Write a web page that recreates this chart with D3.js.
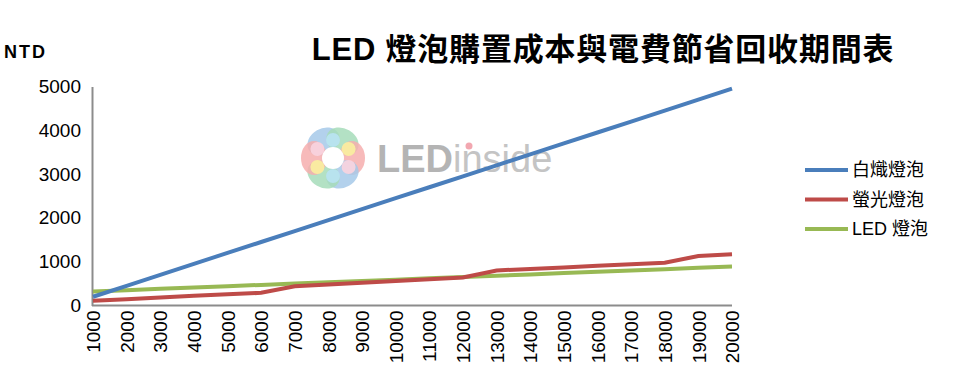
<!DOCTYPE html>
<html>
<head>
<meta charset="utf-8">
<script src="https://cdn.jsdelivr.net/npm/d3@7"></script>
<style>
  body { margin: 0; background: #fff; }
  svg text { font-family: "Liberation Sans", Arial, "Noto Sans CJK TC", sans-serif; }
</style>
</head>
<body>
<div id="chart"></div>
<script>
// hours of use (x categories)
var hours = ["1000","2000","3000","4000","5000","6000","7000","8000","9000","10000",
             "11000","12000","13000","14000","15000","16000","17000","18000","19000","20000"];
// cumulative cost, NTD
var incandescent = [200,450,700,950,1200,1450,1700,1950,2200,2450,
                    2700,2950,3200,3450,3700,3950,4200,4450,4700,4950];
var fluorescent = [110,145,180,220,255,290,440,480,520,560,
                   600,640,800,835,870,905,940,975,1130,1170];
var ledBulb = [320,350,380,410,440,470,500,530,560,590,
               620,650,680,710,740,770,800,830,860,890];
var yTicks = [0,1000,2000,3000,4000,5000];

var seriesNames = ["白熾燈泡", "螢光燈泡", "LED 燈泡"];
var seriesColors = ["#4a7ebb", "#be4b48", "#98b954"];

var width = 977, height = 386;
var margin = {left: 92, right: 245, top: 86.5, bottom: 80.5};

var svg = d3.select("#chart").append("svg").attr("width", width).attr("height", height);

var xScale = d3.scalePoint()
    .domain(hours)
    .range([93, width - margin.right]);

var yScale = d3.scaleLinear()
    .domain([0, 5000])
    .range([height - margin.bottom, margin.top]);

// watermark
var logo = svg.append("g").attr("transform", "translate(333,158)");
var petals = [
    {a: -120, c: "#a6c9e9"}, {a: -60, c: "#a6dcba"}, {a: 0, c: "#f6aeae"},
    {a: 60, c: "#a6c9e9"}, {a: 120, c: "#a6dcba"}, {a: 180, c: "#f6aeae"}
];
logo.selectAll("ellipse.petal")
    .data(petals)
    .enter()
    .append("ellipse")
    .attr("class", "petal")
    .attr("transform", d => "rotate(" + d.a + ") translate(19,0)")
    .attr("rx", 13)
    .attr("ry", 17)
    .attr("fill", d => d.c)
    .attr("opacity", 0.85);
logo.selectAll("circle.mid")
    .data([{a: -30, c: "#fbf0a0"}, {a: 150, c: "#fbf0a0"}, {a: 30, c: "#f9d4e0"}, {a: 210, c: "#f9d4e0"}, {a: 90, c: "#b9e3f3"}, {a: -90, c: "#b9e3f3"}])
    .enter()
    .append("circle")
    .attr("class", "mid")
    .attr("cx", d => 18 * Math.cos(d.a * Math.PI / 180))
    .attr("cy", d => 18 * Math.sin(d.a * Math.PI / 180))
    .attr("r", 7)
    .attr("fill", d => d.c)
    .attr("opacity", 0.9);
logo.append("circle").attr("r", 11).attr("fill", "#fff");

var wm = svg.append("text")
    .attr("x", 377)
    .attr("y", 172)
    .attr("font-size", "38px")
    .attr("fill", "#b4b4b4");
wm.append("tspan").attr("font-weight", "bold").text("LED");
wm.append("tspan").attr("fill", "#c4c4c4").text("inside");
svg.append("circle").attr("cx", 469).attr("cy", 146).attr("r", 3.5).attr("fill", "#f2a7b0");

// title
svg.append("text")
    .attr("x", 603)
    .attr("y", 60)
    .attr("text-anchor", "middle")
    .attr("font-size", "31px")
    .attr("font-weight", "bold")
    .attr("letter-spacing", "0.8px")
    .attr("fill", "#000")
    .text("LED 燈泡購置成本與電費節省回收期間表");

svg.append("text")
    .attr("x", 4)
    .attr("y", 58)
    .attr("font-size", "18px")
    .attr("font-weight", "bold")
    .attr("letter-spacing", "2px")
    .text("NTD");

// axes
var axisx = d3.axisBottom(xScale).tickSize(0).tickPadding(0);
var axisy = d3.axisLeft(yScale).tickValues(yTicks).tickFormat(d3.format("d")).tickSize(0).tickPadding(11);

var gx = svg.append("g")
    .attr("transform", "translate(0," + (height - margin.bottom) + ")")
    .call(axisx);
gx.select(".domain").attr("stroke", "#8c8c8c").attr("stroke-width", 2)
    .attr("d", "M" + margin.left + ",0H" + xScale("20000"));
gx.selectAll(".tick text")
    .attr("transform", "rotate(-90)")
    .attr("text-anchor", "end")
    .attr("x", -5)
    .attr("y", 0)
    .attr("dy", "0.35em")
    .attr("font-size", "19px")
    .attr("font-family", "Liberation Sans, Arial, sans-serif")
    .attr("fill", "#000");

var gy = svg.append("g")
    .attr("transform", "translate(" + margin.left + ",0)")
    .call(axisy);
gy.select(".domain").attr("stroke", "#8c8c8c").attr("stroke-width", 2);
gy.selectAll(".tick text")
    .attr("font-size", "19px")
    .attr("font-family", "Liberation Sans, Arial, sans-serif")
    .attr("fill", "#000");

// lines
var curveFunc = d3.line()
    .curve(d3.curveLinear)
    .x(function(d, i) { return xScale(hours[i]); })
    .y(function(d) { return yScale(d); });

var allSeries = [incandescent, fluorescent, ledBulb];
for (let i = allSeries.length - 1; i >= 0; i--) {
    svg.append("path")
        .attr("d", curveFunc(allSeries[i]))
        .attr("stroke", seriesColors[i])
        .attr("stroke-width", 4)
        .attr("fill", "none");
}

// legend
var legend = svg.append("g")
    .selectAll("g")
    .data(seriesNames)
    .enter()
    .append("g")
    .attr("transform", (d, i) => "translate(805," + (170 + i * 29.5) + ")");
legend.append("line")
    .attr("x1", 0).attr("x2", 43)
    .attr("y1", 0).attr("y2", 0)
    .attr("stroke", (d, i) => seriesColors[i])
    .attr("stroke-width", 4);
legend.append("text")
    .attr("x", 47)
    .attr("y", 0)
    .attr("dy", "0.35em")
    .attr("font-size", "18px")
    .text(d => d);
</script>
</body>
</html>
